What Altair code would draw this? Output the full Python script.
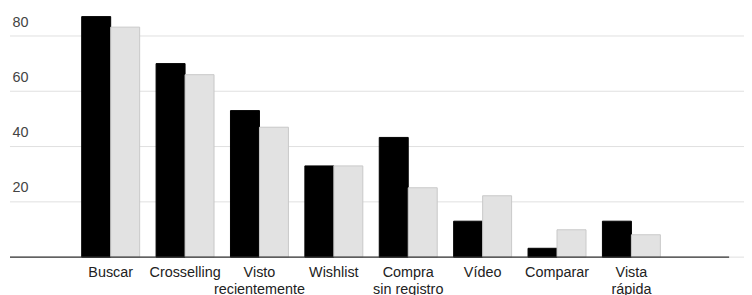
import altair as alt
import pandas as pd

categories = ["Buscar", "Crosselling", "Visto recientemente", "Wishlist",
              "Compra sin registro", "Vídeo", "Comparar", "Vista rápida"]
series_names = ["Serie 1", "Serie 2"]
serie1 = [87, 70, 53, 33, 43.3, 13, 3.2, 13]
serie2 = [83.2, 66, 47, 33, 25.1, 22.2, 9.9, 8.1]
y_ticks = [0, 20, 40, 60, 80]
label_lines = {
    "Visto recientemente": ["Visto", "recientemente"],
    "Compra sin registro": ["Compra", "sin registro"],
    "Vista rápida": ["Vista", "rápida"],
}

rows = []
for c, a, b in zip(categories, serie1, serie2):
    rows.append({"cat": c, "serie": series_names[0], "valor": a})
    rows.append({"cat": c, "serie": series_names[1], "valor": b})
df = pd.DataFrame(rows)

expr = "datum.label"
for k, v in label_lines.items():
    expr = f"datum.label == '{k}' ? {v} : (" + expr + ")"

FONT = "Liberation Sans"
yscale = alt.Scale(domain=[0, 89.7], nice=False)

grid = alt.Chart(pd.DataFrame({"t": y_ticks})).mark_rule(
    color="#e0e0e0", strokeWidth=1
).encode(y=alt.Y("t:Q", scale=yscale))

bars = alt.Chart(df).mark_bar(strokeWidth=1).encode(
    x=alt.X("cat:N", sort=categories,
            scale=alt.Scale(paddingInner=0.221, paddingOuter=0,
                            range=[72.3, 655.7]),
            axis=alt.Axis(title=None, domain=False, ticks=False, tickSize=0,
                          grid=False,
                          labelAngle=0, labelFont=FONT, labelFontSize=14.5,
                          labelColor="#222222", labelPadding=9,
                          labelLineHeight=17, labelExpr=expr)),
    xOffset=alt.XOffset("serie:N", sort=series_names,
                        scale=alt.Scale(paddingInner=0, paddingOuter=0)),
    y=alt.Y("valor:Q", scale=yscale,
            axis=alt.Axis(title=None, values=y_ticks, grid=False,
                          domain=False, ticks=False, tickSize=0,
                          labelAlign="left", labelPadding=-2,
                          labelBaseline="alphabetic", labelOffset=-10,
                          labelFont=FONT, labelFontSize=14.5,
                          labelColor="#444444",
                          labelExpr="datum.value == 0 ? '' : datum.label")),
    color=alt.Color("serie:N", sort=series_names, legend=None,
                    scale=alt.Scale(domain=series_names,
                                    range=["#000000", "#e2e2e2"])),
    stroke=alt.Stroke("serie:N", sort=series_names, legend=None,
                      scale=alt.Scale(domain=series_names,
                                      range=["#000000", "#c8c8c8"])),
)

baseline = alt.Chart(pd.DataFrame({"v": [0]})).mark_rule(
    color="#333333", strokeWidth=1.2
).encode(y=alt.Y("v:Q", scale=yscale), x=alt.value(0), x2=alt.value(725))

chart = alt.layer(grid, bars, baseline).properties(
    width=740, height=250,
    autosize=alt.AutoSizeParams(type="none"),
    padding={"left": 2, "top": 0, "right": 0, "bottom": 37},
).configure_view(stroke=None)

chart.save("out.html", embed_options={"renderer": "svg", "actions": False})
